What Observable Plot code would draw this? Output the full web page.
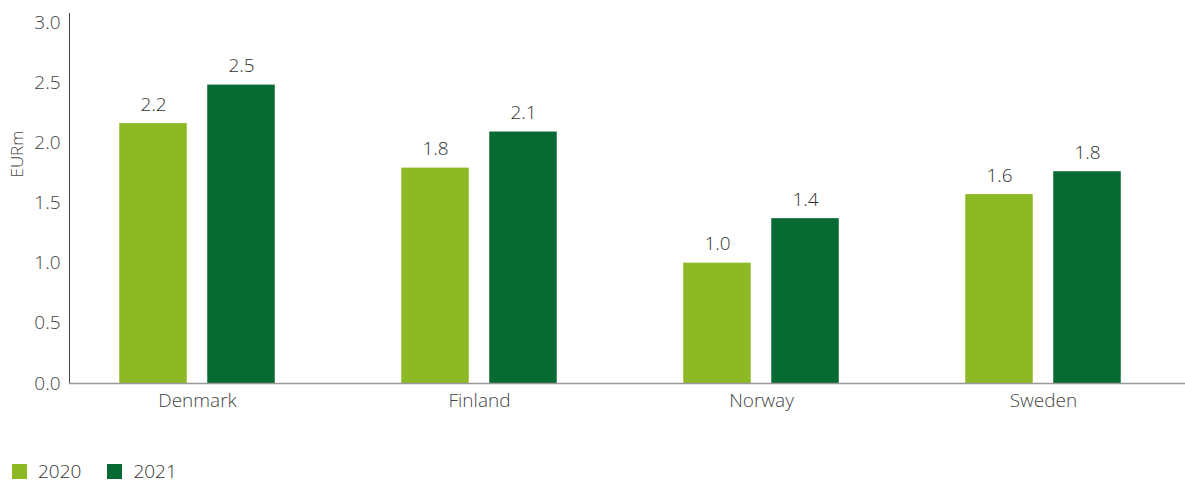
<!DOCTYPE html>
<html>
<head>
<meta charset="utf-8">
<script src="https://cdn.jsdelivr.net/npm/d3@7"></script>
<script src="https://cdn.jsdelivr.net/npm/@observablehq/plot@0.6"></script>
<style>
  body { margin: 0; background: #fff; font-family: "Open Sans", sans-serif; font-weight: 300; }
  #chart svg text { font-weight: 300; }
  #chart svg g[aria-label$="axis"] text, #chart svg g[aria-label$="tick label"] text { font-size: 19px; }
  #legend { display: flex; align-items: center; margin-top: 42px; margin-left: 12px; font-size: 19px; line-height: 1; color: #333; }
  #legend .item { display: flex; align-items: center; margin-right: 26px; }
  #legend .sw { width: 15px; height: 15px; margin-right: 11px; }
</style>
</head>
<body>
<div id="chart"></div>
<div id="legend"></div>
<script>
const countries = ["Denmark", "Finland", "Norway", "Sweden"];
const years = ["2020", "2021"];
const values2020 = [2.16, 1.79, 1.0, 1.57];
const values2021 = [2.48, 2.09, 1.37, 1.76];
const colors = ["#8db925", "#086a33"];
const yTicks = [0, 0.5, 1.0, 1.5, 2.0, 2.5, 3.0];
const yLabel = "EURm";

const d2020 = countries.map((c, i) => ({country: c, year: "2020", value: values2020[i]}));
const d2021 = countries.map((c, i) => ({country: c, year: "2021", value: values2021[i]}));
const fmt = d3.format(".1f");

const chart = Plot.plot({
  width: 1185,
  height: 420,
  marginLeft: 69,
  marginRight: 0,
  marginTop: 13,
  marginBottom: 37,
  style: {fontFamily: "Open Sans, sans-serif", fontSize: "19px", color: "#444", background: "#fff"},
  x: {type: "band", domain: countries, range: [55, 1185], padding: 0, tickSize: 0, tickPadding: 10, label: null},
  y: {domain: [0, 3.075], ticks: yTicks, tickFormat: ".1f", tickSize: 0, tickPadding: 9, line: true, label: null},
  marks: [
    Plot.barY(d2020, {x: "country", y: "value", fill: colors[0], insetLeft: 63.25, insetRight: 151.25}),
    Plot.barY(d2021, {x: "country", y: "value", fill: colors[1], insetLeft: 151.25, insetRight: 63.25}),
    Plot.text(d2020, {x: "country", y: "value", text: d => fmt(d.value), dx: -44, dy: -19, fill: "#333", fontSize: 19}),
    Plot.text(d2021, {x: "country", y: "value", text: d => fmt(d.value), dx: 44, dy: -19, fill: "#333", fontSize: 19}),
    Plot.text([yLabel], {frameAnchor: "left", text: d => d, rotate: -90, dx: -52, dy: -21, fill: "#444", fontSize: 17}),
    Plot.ruleY([0], {stroke: "#999", strokeWidth: 1.5})
  ]
});
document.getElementById("chart").appendChild(chart);

const legend = document.getElementById("legend");
years.forEach((y, i) => {
  const item = document.createElement("div");
  item.className = "item";
  item.innerHTML = `<span class="sw" style="background:${colors[i]}"></span><span>${y}</span>`;
  legend.appendChild(item);
});
</script>
</body>
</html>
